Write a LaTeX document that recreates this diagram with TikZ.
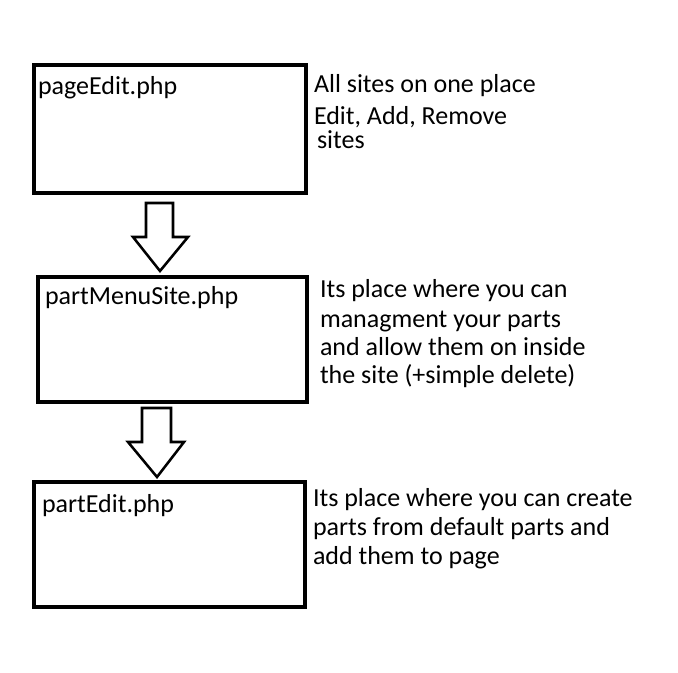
\documentclass[tikz,border=0pt]{standalone}
\usepackage{fontspec}
\setmainfont{Carlito}
\begin{document}
\begin{tikzpicture}[x=0.75pt,y=-0.75pt,
  box/.style={draw=black,line width=2.6pt,rectangle,inner sep=0pt,outer sep=0pt},
  lbl/.style={anchor=base west,inner sep=0pt,outer sep=0pt,font=\fontsize{19.5pt}{23pt}\selectfont},
  blockarrow/.style={draw=black,line width=1.9pt,fill=white,line join=miter}]
\useasboundingbox (0,0) rectangle (678,672);
\fill[white] (0,0) rectangle (678,672);
% boxes
\node[box,minimum width=204pt,minimum height=96pt] (b1) at (170,129) {};
\node[box,minimum width=201.75pt,minimum height=93.75pt] (b2) at (172.5,339.5) {};
\node[box,minimum width=203.25pt,minimum height=93.75pt] (b3) at (169.5,544.5) {};
% box labels
\node[lbl] (t1) at (38,94) {pageEdit.php};
\node[lbl] (t2) at (45,304) {partMenuSite.php};
\node[lbl] (t3) at (42,512) {partEdit.php};
% block arrows
\draw[blockarrow] (146,203) -- (173,203) -- (173,237) -- (188,237) -- (160,271) -- (133,237) -- (146,237) -- cycle;
\draw[blockarrow] (142,408) -- (171,408) -- (171,442) -- (184,442) -- (157,477) -- (128,442) -- (142,442) -- cycle;
% descriptions
\node[lbl] (d1a) at (314,92) {All sites on one place};
\node[lbl] (d1b) at (314,124) {Edit, Add, Remove};
\node[lbl] (d1c) at (317,148) {sites};
\node[lbl] (d2a) at (320,297) {Its place where you can};
\node[lbl] (d2b) at (320,327) {managment your parts};
\node[lbl] (d2c) at (320,355) {and allow them on inside};
\node[lbl] (d2d) at (320,383) {the site (+simple delete)};
\node[lbl] (d3a) at (313,506) {Its place where you can create};
\node[lbl] (d3b) at (313,535) {parts from default parts and};
\node[lbl] (d3c) at (313,564) {add them to page};
\end{tikzpicture}
\end{document}
